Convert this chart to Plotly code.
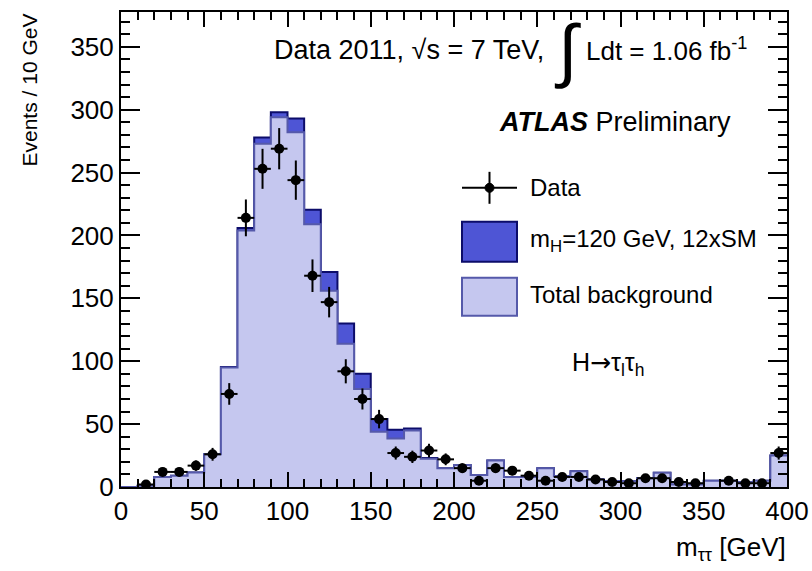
import numpy as np
import plotly.graph_objects as go

# ---------------- data ----------------
bin_edges = list(range(0, 410, 10))  # 0..400 GeV, 10 GeV bins

background = [0, 1, 8, 9, 11.5, 26, 95, 204, 273, 294,
              282, 209, 156, 114, 78, 44, 38.5, 45, 22.5, 15,
              17.5, 9.5, 21, 8, 8, 15, 8.5, 12.5, 6, 4.8,
              4.8, 7, 11.4, 2, 2, 5, 5, 3.7, 5, 25]

signal = [0, 0, 0, 0, 0, 0, 0.4, 2, 5, 4,
          11, 11.5, 15, 16, 12, 10, 7, 1.5, 0.5, 0,
          0, 0, 0, 0, 0, 0, 0, 0, 0, 0,
          0, 0, 0, 0, 0, 0, 0, 0, 0, 0]

data_counts = [None, 2, 12, 12, 17, 26, 74, 214, 253, 269,
               244, 168, 147, 92, 70, 54, 27, 24, 29, 22,
               15, 5, 15, 13, 9, 5, 8, 8, 6, 4,
               3, 7, 7, 4, 3, None, 5, 3, 3, 27]

x_tick_values = [0, 50, 100, 150, 200, 250, 300, 350, 400]
y_tick_values = [0, 50, 100, 150, 200, 250, 300, 350]

# ---------------- styling ----------------
FONT = "Liberation Sans, Arial, Helvetica, sans-serif"
BG_FILL = "#c5c7ef"
BG_LINE = "#5559aa"
SIG_FILL = "#4e55d5"
SIG_LINE = "#0c0c6a"

W, H = 812, 571
PL, PR, PT, PB = 121, 787, 12, 487.5
YMAX = 377.7


def px(x):
    return (x - PL) / (PR - PL)


def py(y):
    return (PB - y) / (PB - PT)


total = [b + s for b, s in zip(background, signal)]
step_x = bin_edges
step_total = total + [total[-1]]
step_bg = background + [background[-1]]

centers = [(bin_edges[i] + bin_edges[i + 1]) / 2 for i in range(len(bin_edges) - 1)]
dx = [c for c, d in zip(centers, data_counts) if d is not None]
dy = [d for d in data_counts if d is not None]
derr = [float(np.sqrt(d)) for d in dy]

fig = go.Figure()

fig.add_trace(go.Scatter(
    x=step_x, y=step_total, mode="lines", line_shape="hv",
    fill="tozeroy", fillcolor=SIG_FILL,
    line=dict(color=SIG_LINE, width=2), showlegend=False, hoverinfo="skip"))

fig.add_trace(go.Scatter(
    x=step_x, y=step_bg, mode="lines", line_shape="hv",
    fill="tozeroy", fillcolor=BG_FILL,
    line=dict(color=BG_LINE, width=2), showlegend=False, hoverinfo="skip"))

fig.add_trace(go.Scatter(
    x=dx, y=dy, mode="markers",
    marker=dict(color="black", size=10, symbol="circle"),
    error_y=dict(type="data", array=derr, color="black", thickness=2, width=0),
    error_x=dict(type="constant", value=5, color="black", thickness=2, width=0),
    showlegend=False))

axis_common = dict(
    showline=True, linecolor="black", linewidth=2, mirror="ticks",
    ticks="inside", tickcolor="black", tickwidth=1.5,
    showgrid=False, zeroline=False, automargin=False,
    tickfont=dict(family=FONT, size=26, color="black"),
)

fig.update_xaxes(range=[0, 400], tickmode="array", tickvals=x_tick_values,
                 ticklen=15,
                 minor=dict(ticks="inside", dtick=10, tick0=0, ticklen=8,
                            tickcolor="black", tickwidth=1.5),
                 **axis_common)
fig.update_yaxes(range=[0, YMAX], tickmode="array", tickvals=y_tick_values,
                 ticklen=19,
                 minor=dict(ticks="inside", dtick=10, tick0=0, ticklen=9,
                            tickcolor="black", tickwidth=1.5),
                 **axis_common)

shapes = []
# legend glyphs
shapes.append(dict(type="line", xref="paper", yref="paper",
                   x0=px(462), x1=px(517), y0=py(188), y1=py(188),
                   line=dict(color="black", width=2)))
shapes.append(dict(type="line", xref="paper", yref="paper",
                   x0=px(489.5), x1=px(489.5), y0=py(172), y1=py(204),
                   line=dict(color="black", width=2)))
shapes.append(dict(type="circle", xref="paper", yref="paper",
                   x0=px(485), x1=px(494), y0=py(183.5), y1=py(192.5),
                   fillcolor="black", line=dict(color="black", width=1)))
shapes.append(dict(type="rect", xref="paper", yref="paper",
                   x0=px(462), x1=px(517), y0=py(222), y1=py(262),
                   fillcolor=SIG_FILL, line=dict(color=SIG_LINE, width=2)))
shapes.append(dict(type="rect", xref="paper", yref="paper",
                   x0=px(462), x1=px(517), y0=py(278), y1=py(316),
                   fillcolor=BG_FILL, line=dict(color=BG_LINE, width=2)))

annotations = [
    dict(text="Data 2011, √s = 7 TeV,",
         x=px(272), y=py(50), xanchor="left", yanchor="middle",
         font=dict(family=FONT, size=27, color="black")),
    dict(text="∫",
         x=px(567), y=py(50), xanchor="center", yanchor="middle",
         font=dict(family=FONT, size=70, color="black")),
    dict(text="Ldt = 1.06 fb<sup>-1</sup>",
         x=px(584), y=py(50), xanchor="left", yanchor="middle",
         font=dict(family=FONT, size=26, color="black")),
    dict(text="<b><i>ATLAS</i></b> Preliminary",
         x=px(733), y=py(122), xanchor="right", yanchor="middle",
         font=dict(family=FONT, size=27, color="black")),
    dict(text="Data", x=px(528), y=py(188), xanchor="left", yanchor="middle",
         font=dict(family=FONT, size=24, color="black")),
    dict(text="m<sub>H</sub>=120 GeV, 12xSM", x=px(528), y=py(241),
         xanchor="left", yanchor="middle",
         font=dict(family=FONT, size=24, color="black")),
    dict(text="Total background", x=px(528), y=py(295),
         xanchor="left", yanchor="middle",
         font=dict(family=FONT, size=24, color="black")),
    dict(text="H<span style='font-family:DejaVu Sans'>→</span>τ<sub>l</sub>τ<sub>h</sub>",
         x=px(570), y=py(364), xanchor="left", yanchor="middle",
         font=dict(family=FONT, size=25, color="black")),
    dict(text="m<sub>ττ</sub> [GeV]", x=px(788), y=py(549),
         xanchor="right", yanchor="middle",
         font=dict(family=FONT, size=26, color="black")),
    dict(text="Events / 10 GeV", x=px(29), y=py(12), textangle=-90,
         xanchor="center", yanchor="top",
         font=dict(family=FONT, size=21, color="black")),
]
for a in annotations:
    a.setdefault("xref", "paper")
    a.setdefault("yref", "paper")
    a["showarrow"] = False

fig.update_layout(
    width=W, height=H,
    margin=dict(l=PL, r=W - PR, t=PT, b=H - PB),
    paper_bgcolor="white", plot_bgcolor="white",
    shapes=shapes, annotations=annotations,
    font=dict(family=FONT, color="black"),
    showlegend=False,
)

fig.write_html(
    "out.html",
    config={"displayModeBar": False},
    post_script="document.body.style.margin='0';document.body.style.overflow='hidden';",
)
